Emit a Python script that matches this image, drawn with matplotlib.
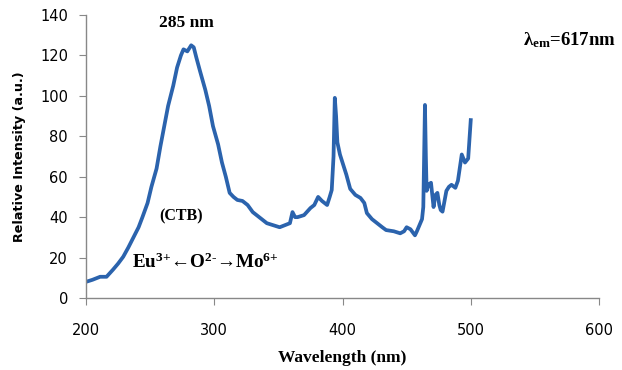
import matplotlib
matplotlib.use("Agg")
import matplotlib.pyplot as plt

# excitation spectrum
wavelength = [200, 205, 211, 216, 221, 225, 229, 233, 237, 241, 244, 248, 251, 255,
              258, 261, 264, 268, 271, 274, 276, 279, 282, 284, 286, 289, 293, 296,
              299, 303, 306, 309, 312, 315, 318, 322, 326, 330, 335, 341, 346, 351,
              355, 359, 361, 363, 365, 370, 375, 378, 381, 384, 388, 390, 391.6, 393,
              394, 395, 396, 398, 400, 403, 406, 410, 414, 417, 419, 423, 427, 431,
              434, 440, 445, 448, 450, 453, 456.5, 458, 460, 462, 463, 464.3, 465,
              465.6, 467, 469, 471, 472.5, 474, 475.5, 476.6, 478, 481, 483, 485, 488,
              490, 493, 495.5, 498, 500]
intensity = [8, 9, 10.5, 10.5, 14, 17, 20.4, 25, 30, 35, 40, 47, 55, 64,
             75, 85, 95, 105, 114, 120, 123, 122, 125, 124, 119, 112, 103, 95,
             85, 76, 67, 60, 52, 50, 48.5, 48, 46, 42.5, 40, 37, 36, 35,
             36, 37, 42.5, 40, 40, 41, 44.5, 46, 50, 48, 46, 50, 53.4, 70,
             99, 90, 77, 71, 67, 61, 54, 51, 49.5, 47, 42, 39, 37, 35,
             33.6, 33, 32, 33, 35, 34, 31, 33, 36, 39, 45, 95.5, 70,
             53, 56, 57, 45, 51, 52, 46, 43.5, 42.7, 53, 55, 56, 54.5,
             58, 71, 67, 69, 88]

x_ticks = [200, 300, 400, 500, 600]
y_ticks = [0, 20, 40, 60, 80, 100, 120, 140]

serif = "Liberation Serif"
plt.rcParams["mathtext.fontset"] = "custom"
plt.rcParams["mathtext.rm"] = serif + ":bold"
plt.rcParams["mathtext.it"] = serif + ":bold"
plt.rcParams["mathtext.bf"] = serif + ":bold"

fig = plt.figure(figsize=(6.22, 3.70), dpi=100)
ax = fig.add_axes([0.1383, 0.1946, 0.8247, 0.7649])

ax.plot(wavelength, intensity, color="#2B63AD", linewidth=2.7, solid_joinstyle="round")

ax.set_xlim(200, 600)
ax.set_ylim(0, 140)
ax.set_xticks(x_ticks)
ax.set_yticks(y_ticks)

for side in ("top", "right"):
    ax.spines[side].set_visible(False)
for side in ("left", "bottom"):
    ax.spines[side].set_color("#888888")
    ax.spines[side].set_linewidth(1.0)

ax.tick_params(axis="x", direction="out", length=5, color="#888888", pad=13,
               labelsize=10.5)
ax.tick_params(axis="y", direction="out", length=5, color="#888888", pad=8,
               labelsize=10.5)

ax.set_xlabel("Wavelength (nm)", fontfamily=serif, fontweight="bold", fontsize=12.5,
              labelpad=9)
ax.set_ylabel("Relative Intensity (a.u.)", fontweight="bold", fontsize=9.2,
              labelpad=10)

ax.text(278, 136, "285 nm", fontfamily=serif, fontweight="bold", fontsize=12.5,
        ha="center", va="center")
ax.text(541, 127.5, r"$\lambda_{\mathrm{em}}$=617nm", fontfamily=serif,
        fontweight="bold", fontsize=13.5, ha="left", va="center")
ax.text(274.5, 40.5, "(CTB)", fontfamily=serif, fontweight="bold", fontsize=11.5,
        ha="center", va="center")
ax.text(236, 17.5, r"Eu$^{3\text{+}}$←O$^{2\text{-}}$→Mo$^{6\text{+}}$",
        fontfamily=serif, fontweight="bold", fontsize=13.8, ha="left", va="center")

fig.savefig("out.png", dpi=100)
